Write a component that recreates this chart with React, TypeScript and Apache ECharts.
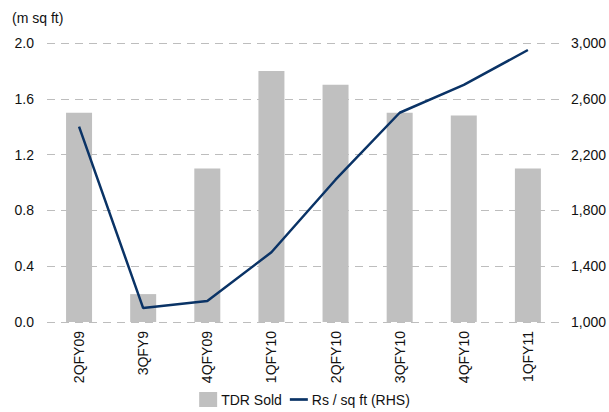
import React, { useEffect, useRef } from "react";
import * as echarts from "echarts";

const categories = ["2QFY09", "3QFY9", "4QFY09", "1QFY10", "2QFY10", "3QFY10", "4QFY10", "1QFY11"];
const tdrSold = [1.5, 0.2, 1.1, 1.8, 1.7, 1.5, 1.48, 1.1];
const rsPerSqFt = [2400, 1100, 1150, 1500, 2020, 2500, 2700, 2950];
const leftTicks = [0, 0.4, 0.8, 1.2, 1.6, 2.0];

export default function App() {
  const ref = useRef<HTMLDivElement>(null);
  useEffect(() => {
    if (!ref.current) return;
    const chart = echarts.init(ref.current, null, { renderer: "svg" });
    const font = "'Liberation Sans', Arial, sans-serif";
    chart.setOption({
      animation: false,
      textStyle: { fontFamily: font },
      grid: { left: 47, right: 49, top: 43, bottom: 90 },
      legend: {
        bottom: 0,
        left: "center",
        itemGap: 8,
        itemWidth: 18,
        itemHeight: 15,
        textStyle: { fontSize: 14, color: "#111", fontFamily: font, padding: [0, 0, 0, -1] },
        data: [
          { name: "TDR Sold", icon: "rect" },
          { name: "Rs / sq ft (RHS)", icon: "path://M0,0h20v3h-20z" },
        ],
      },
      graphic: [
        {
          type: "text",
          left: 12,
          top: 11,
          style: { text: "(m sq ft)", fontSize: 14, fill: "#111", fontFamily: font },
        },
      ],
      xAxis: {
        type: "category",
        data: categories,
        axisLine: { show: false },
        axisTick: { show: false },
        axisLabel: { rotate: 90, fontSize: 14, color: "#111", margin: 9, fontFamily: font },
      },
      yAxis: [
        {
          type: "value",
          min: 0,
          max: leftTicks[leftTicks.length - 1],
          interval: 0.4,
          axisLine: { show: false },
          axisTick: { show: false },
          axisLabel: {
            fontSize: 14,
            color: "#111",
            margin: 13,
            fontFamily: font,
            formatter: (v: number) => v.toFixed(1),
          },
          splitLine: { lineStyle: { color: "#bdbdbd", type: [8, 6], width: 1 } },
        },
        {
          type: "value",
          min: 1000,
          max: 3000,
          interval: 400,
          axisLine: { show: false },
          axisTick: { show: false },
          axisLabel: {
            fontSize: 14,
            color: "#111",
            margin: 11,
            fontFamily: font,
            formatter: (v: number) => v.toLocaleString("en-US"),
          },
          splitLine: { show: false },
        },
      ],
      series: [
        {
          name: "TDR Sold",
          type: "bar",
          data: tdrSold,
          barWidth: 26,
          itemStyle: { color: "#c0c0c0" },
          yAxisIndex: 0,
        },
        {
          name: "Rs / sq ft (RHS)",
          type: "line",
          data: rsPerSqFt,
          yAxisIndex: 1,
          symbol: "none",
          lineStyle: { color: "#0a3366", width: 2.5 },
          itemStyle: { color: "#0a3366" },
        },
      ],
    });
    return () => chart.dispose();
  }, []);
  return <div ref={ref} style={{ width: 609, height: 412, position: "absolute", left: 0, top: 0 }} />;
}
